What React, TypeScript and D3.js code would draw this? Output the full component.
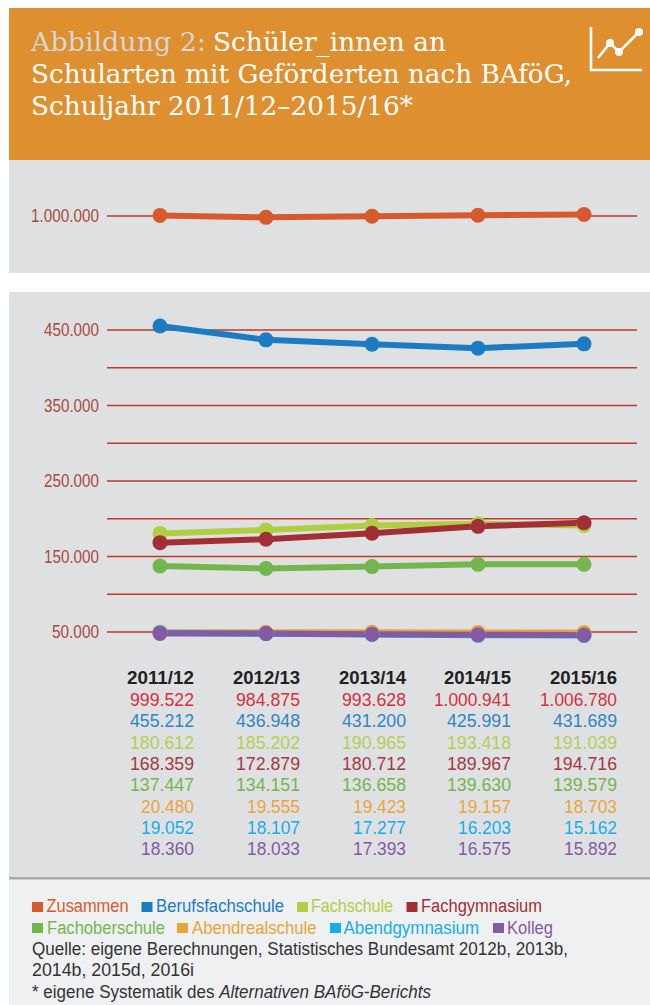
import React from "react";
import * as d3 from "d3";

const years = ["2011/12", "2012/13", "2013/14", "2014/15", "2015/16"];
const names = ["Zusammen", "Berufsfachschule", "Fachschule", "Fachgymnasium", "Fachoberschule", "Abendrealschule", "Abendgymnasium", "Kolleg"];
const colors = ["#d65a2c", "#1c7cc2", "#afce42", "#a12f35", "#74b64e", "#e6a537", "#14aeea", "#835aa3"];
const tableColors = ["#d62f3f", "#2f86c5", "#b3cf55", "#a33a42", "#74b64e", "#e9a63c", "#14aeea", "#835aa3"];
const tableRows = [
  ["999.522", "984.875", "993.628", "1.000.941", "1.006.780"],
  ["455.212", "436.948", "431.200", "425.991", "431.689"],
  ["180.612", "185.202", "190.965", "193.418", "191.039"],
  ["168.359", "172.879", "180.712", "189.967", "194.716"],
  ["137.447", "134.151", "136.658", "139.630", "139.579"],
  ["20.480", "19.555", "19.423", "19.157", "18.703"],
  ["19.052", "18.107", "17.277", "16.203", "15.162"],
  ["18.360", "18.033", "17.393", "16.575", "15.892"],
];
// Heights as drawn in the picture: the three small series sit near the 50.000 line.
const zusammen = [999522, 984875, 993628, 1000941, 1006780];
const berufsfach = [455212, 436948, 431200, 425991, 431689];
const fachschule = [180612, 185202, 190965, 193418, 191039];
const fachgym = [168359, 172879, 180712, 189967, 194716];
const fachober = [137447, 134151, 136658, 139630, 139579];
const abendreal = [49800, 49700, 49600, 49500, 49200];
const abendgym = [49000, 47700, 46800, 45600, 45400];
const kolleg = [48000, 48000, 47000, 46300, 46000];
const lowerSeries = [berufsfach, fachschule, fachgym, fachober, abendreal, abendgym, kolleg];
const lowerColors = colors.slice(1);
const gridValues = [50000, 100000, 150000, 200000, 250000, 300000, 350000, 400000, 450000];
const labelled = ["450.000", "350.000", "250.000", "150.000", "50.000"];
const labelledValues = [450000, 350000, 250000, 150000, 50000];

const x = d3.scalePoint<string>().domain(years).range([160, 584]);
const yTop = d3.scaleLinear().domain([980000, 1010000]).range([218, 214]);
const yLow = d3.scaleLinear().domain([50000, 450000]).range([632, 330]);
const sans = "'Liberation Sans', sans-serif";
const slab = "'DejaVu Serif', serif";

type TP = { x: number; y: number; w: number; t: React.ReactNode; fill: string; size?: number; anchor?: string; weight?: number; family?: string };
const T = ({ x: px, y, w, t, fill, size = 18, anchor = "start", weight = 400, family = sans }: TP) => (
  <text x={px} y={y} textLength={w} lengthAdjust="spacingAndGlyphs" fill={fill} fontSize={size} textAnchor={anchor as any} fontWeight={weight} fontFamily={family}>{t}</text>
);

const legendRows = [
  [[32, 46.5, 82], [141.5, 156, 128], [297, 311, 82], [406.5, 421, 121]],
  [[32, 47, 118], [177, 192, 124.5], [330, 343.5, 135.5], [493, 507, 46]],
];
const tableRight = [194, 300, 406, 511, 617];
const rowY = [706, 727, 749, 770, 791, 813, 834, 855];
const textW = (s: string) => (s.length === 9 ? 77 : s.length === 7 ? 64 : 53);

export default function App() {
  const topPath = d3.line<number>().x((_, i) => x(years[i])!).y((d) => yTop(d))(zusammen)!;
  const lowPaths = lowerSeries.map((s) => d3.line<number>().x((_, i) => x(years[i])!).y((d) => yLow(d))(s)!);
  return (
    <svg width={650} height={1005} style={{ position: "absolute", left: 0, top: 0, display: "block", background: "#fff" }}>
      <rect x={9} y={8} width={641} height={152} fill="#de8f2f" />
      <rect x={9} y={160} width={641} height={113} fill="#dfe0e2" />
      <rect x={9} y={292} width={641} height={586} fill="#dfe0e2" />
      <rect x={9} y={878} width={641} height={127} fill="#eff0f2" />
      <rect x={9} y={877} width={641} height={2.5} fill="#a9abae" />

      <T x={31} y={51} w={175} t="Abbildung 2:" fill="#d6d6d4" size={26.5} family={slab} />
      <T x={213} y={51} w={233} t="Schüler_innen an" fill="#fff" size={26.5} family={slab} />
      <T x={31} y={83} w={541} t="Schularten mit Geförderten nach BAföG," fill="#fff" size={26.5} family={slab} />
      <T x={31} y={115} w={382} t="Schuljahr 2011/12–2015/16*" fill="#fff" size={26.5} family={slab} />

      <path d="M591 27V70H642" fill="none" stroke="#fff" strokeWidth={2.6} />
      <path d="M598 58L610 43L619 52L639 32" fill="none" stroke="#fff" strokeWidth={2.6} />
      {[[610, 43], [619, 52], [639, 32]].map(([cx, cy], i) => <circle key={i} cx={cx} cy={cy} r={4} fill="#fff" />)}

      <line x1={107} x2={637} y1={216} y2={216} stroke="#c0392b" strokeWidth={1.3} />
      <T x={99} y={222} w={68} t="1.000.000" fill="#a94a3f" size={17.5} anchor="end" />
      <path d={topPath} fill="none" stroke={colors[0]} strokeWidth={6} />
      {zusammen.map((v, i) => <circle key={i} cx={x(years[i])} cy={yTop(v)} r={7.5} fill={colors[0]} />)}

      {gridValues.map((v) => <line key={v} x1={107} x2={637} y1={yLow(v)} y2={yLow(v)} stroke="#c0392b" strokeWidth={1.3} />)}
      {labelled.map((l, i) => <T key={l} x={99} y={yLow(labelledValues[i]) + 6} w={l.length === 6 ? 47 : 55} t={l} fill="#a94a3f" size={17.5} anchor="end" />)}
      {lowPaths.map((p, k) => <path key={k} d={p} fill="none" stroke={lowerColors[k]} strokeWidth={6} />)}
      {lowerSeries.map((s, k) => s.map((v, i) => <circle key={`${k}-${i}`} cx={x(years[i])} cy={yLow(v)} r={7.5} fill={lowerColors[k]} />))}

      {years.map((y, i) => <T key={y} x={tableRight[i]} y={684} w={67} t={y} fill="#222" size={18.2} anchor="end" weight={700} />)}
      {tableRows.map((row, r) => row.map((v, i) => <T key={`${r}-${i}`} x={tableRight[i]} y={rowY[r]} w={textW(v)} t={v} fill={tableColors[r]} size={18.2} anchor="end" />))}

      {legendRows.map((row, r) => row.map(([sq, tx, w], i) => {
        const idx = r * 4 + i;
        return (
          <g key={idx}>
            <rect x={sq} y={r === 0 ? 902 : 923} width={11} height={10} fill={colors[idx]} />
            <T x={tx} y={r === 0 ? 912 : 933.5} w={w} t={names[idx]} fill={colors[idx]} size={18} />
          </g>
        );
      }))}
      <T x={32} y={955} w={536} t="Quelle: eigene Berechnungen, Statistisches Bundesamt 2012b, 2013b," fill="#333" size={18} />
      <T x={32} y={976} w={162} t="2014b, 2015d, 2016i" fill="#333" size={18} />
      <text x={32} y={998} fill="#333" fontSize={18} fontFamily={sans} textLength={399} lengthAdjust="spacingAndGlyphs">* eigene Systematik des <tspan fontStyle="italic">Alternativen BAföG-Berichts</tspan></text>
    </svg>
  );
}
